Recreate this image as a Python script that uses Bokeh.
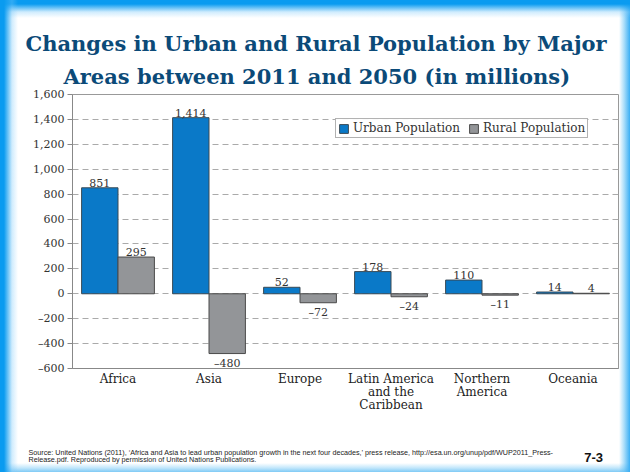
from bokeh.plotting import figure
from bokeh.models import (ColumnDataSource, FixedTicker, Legend, LegendItem, Title,
                          CategoricalAxis, FactorRange)
from bokeh.transform import dodge
from bokeh.core.properties import value
from bokeh.embed import file_html
from bokeh.resources import INLINE

# ---- data ----
regions = ["Africa", "Asia", "Europe", "Latin America\nand the\nCaribbean",
           "Northern\nAmerica", "Oceania"]
urban = [851, 1414, 52, 178, 110, 14]
rural = [295, -480, -72, -24, -11, 4]
y_ticks = [-600, -400, -200, 0, 200, 400, 600, 800, 1000, 1200, 1400, 1600]

title_lines = ["Changes in Urban and Rural Population by Major",
               "Areas between 2011 and 2050 (in millions)"]
source_text = ("Source: United Nations (2011), \u2018Africa and Asia to lead urban population growth in the next "
               "four decades,\u2019 press release,  http://esa.un.org/unup/pdf/WUP2011_Press-\n"
               "Release.pdf.  Reproduced by permission of United Nations Publications.")
slide_no = "7-3"

CHART_FONT = "DejaVu Serif"


def fmt(v):
    s = f"{abs(v):,}"
    return ("\u2013" + s) if v < 0 else s


W, H = 630, 472
FL, FR, FT, FB = 72, 618, 94, 368

src = ColumnDataSource(dict(region=regions, urban=urban, rural=rural))

p = figure(x_range=regions, y_range=(-600, 1600), width=W, height=H,
           output_backend="svg", toolbar_location=None,
           min_border_left=FL, min_border_right=W - FR,
           min_border_top=FT, min_border_bottom=H - FB)
p.x_range.range_padding = 0

ub = p.vbar(x=dodge("region", -0.2, range=p.x_range), top="urban", bottom=0, width=0.4,
            source=src, fill_color="#0a79c8", line_color="#3a4a55", line_width=1)
rb = p.vbar(x=dodge("region", 0.2, range=p.x_range), top="rural", bottom=0, width=0.4,
            source=src, fill_color="#939598", line_color="#4a4a4a", line_width=1)

# value labels
pos_u = ColumnDataSource(dict(region=[r for r, v in zip(regions, urban) if v >= 0],
                              val=[v for v in urban if v >= 0],
                              lbl=[fmt(v) for v in urban if v >= 0]))
pos_r = ColumnDataSource(dict(region=[r for r, v in zip(regions, rural) if v >= 0],
                              val=[v for v in rural if v >= 0],
                              lbl=[fmt(v) for v in rural if v >= 0]))
neg_r = ColumnDataSource(dict(region=[r for r, v in zip(regions, rural) if v < 0],
                              val=[v for v in rural if v < 0],
                              lbl=[fmt(v) for v in rural if v < 0]))
common = dict(text="lbl", text_font=value(CHART_FONT), text_font_size="11px",
              text_color="#333333", text_align="center")
p.text(x=dodge("region", -0.2, range=p.x_range), y="val", source=pos_u,
       text_baseline="bottom", y_offset=-1, **common)
p.text(x=dodge("region", 0.2, range=p.x_range), y="val", source=pos_r,
       text_baseline="bottom", y_offset=-1, **common)
p.text(x=dodge("region", 0.2, range=p.x_range), y="val", source=neg_r,
       text_baseline="top", y_offset=3, **common)

# axes
p.yaxis.ticker = FixedTicker(ticks=y_ticks)
p.yaxis.major_label_overrides = {t: fmt(t) for t in y_ticks}
p.yaxis.major_label_text_font = CHART_FONT
p.yaxis.major_label_text_font_size = "11px"
p.yaxis.major_label_text_color = "#333333"
p.yaxis.axis_line_color = "#888888"
p.yaxis.major_tick_line_color = "#888888"
p.yaxis.major_tick_out = 5
p.yaxis.major_tick_in = 0
p.yaxis.minor_tick_line_color = None
p.yaxis.major_label_standoff = 3

xax = p.xaxis[0]
xax.major_label_text_font = CHART_FONT
xax.major_label_text_font_size = "12px"
xax.major_label_text_color = "#222222"
xax.major_label_text_line_height = 0.95
xax.axis_line_color = "#888888"
xax.major_tick_line_color = None
xax.minor_tick_line_color = None
xax.major_label_standoff = -3
# invisible axis label used as vertical spacer before the footer
xax.axis_label = " "
xax.axis_label_text_font_size = "1px"
xax.axis_label_standoff = 26

p.xgrid.grid_line_color = None
p.ygrid.grid_line_color = "#aaaaaa"
p.ygrid.grid_line_dash = "6 4"
p.ygrid.grid_line_width = 1
p.outline_line_color = "#999999"
p.outline_line_width = 1
p.background_fill_color = "white"
p.border_fill_color = None
p.styles = {
    "background": ("linear-gradient(to right, #0a9bf0 0px, #0a9bf0 4px, rgba(120,200,250,0.35) 12px, rgba(255,255,255,0) 18px), "
                   "linear-gradient(to bottom, #0a9bf0 0px, #0a9bf0 4px, rgba(120,200,250,0.35) 12px, rgba(255,255,255,0) 18px), "
                   "linear-gradient(to left, #3aaef4 0px, rgba(90,190,245,0.5) 6px, rgba(255,255,255,0) 11px), "
                   "linear-gradient(to top, #7fcaf5 0px, rgba(130,205,247,0.5) 4px, rgba(255,255,255,0) 9px), "
                   "white"),
}

legend = Legend(items=[LegendItem(label="Urban Population", renderers=[ub]),
                       LegendItem(label="Rural Population", renderers=[rb])],
                orientation="horizontal", location=(263, 230),
                label_text_font=CHART_FONT, label_text_font_size="12px",
                label_text_color="#333333", glyph_width=11, glyph_height=11,
                label_standoff=4, spacing=8, padding=2, margin=0,
                border_line_color="#666666", border_line_width=1,
                label_height=12)
p.add_layout(legend, "center")

# title: two lines, stacked outward from the frame (second line first)
title_offsets = [-47, -9]
title_standoffs = [0, 12]
for k in (1, 0):
    p.add_layout(Title(text=title_lines[k], align="left", offset=title_offsets[k],
                       text_font="DejaVu Serif", text_font_style="bold",
                       text_font_size="21px", text_color="#0b4a78",
                       standoff=title_standoffs[k]), "above")

# footer
p.add_layout(Title(text=source_text, align="left", offset=-44, text_font="Liberation Sans",
                   text_font_style="normal", text_font_size="7.2px", text_color="#222222",
                   text_line_height=0.87, standoff=0), "below")

# slide number: auxiliary categorical axis whose last slot carries the number
slots = [" " * (i + 1) for i in range(10)] + [slide_no]
p.extra_x_ranges = {"slide": FactorRange(factors=slots, range_padding=0)}
num_axis = CategoricalAxis(x_range_name="slide",
                           major_label_text_font="Liberation Sans",
                           major_label_text_font_style="bold",
                           major_label_text_font_size="13px",
                           major_label_text_color="#111111",
                           axis_line_color=None, major_tick_line_color=None,
                           minor_tick_line_color=None, major_tick_out=0, major_tick_in=0,
                           major_label_standoff=-15)
p.add_layout(num_axis, "below")

open("out.html", "w").write(file_html(p, INLINE))
